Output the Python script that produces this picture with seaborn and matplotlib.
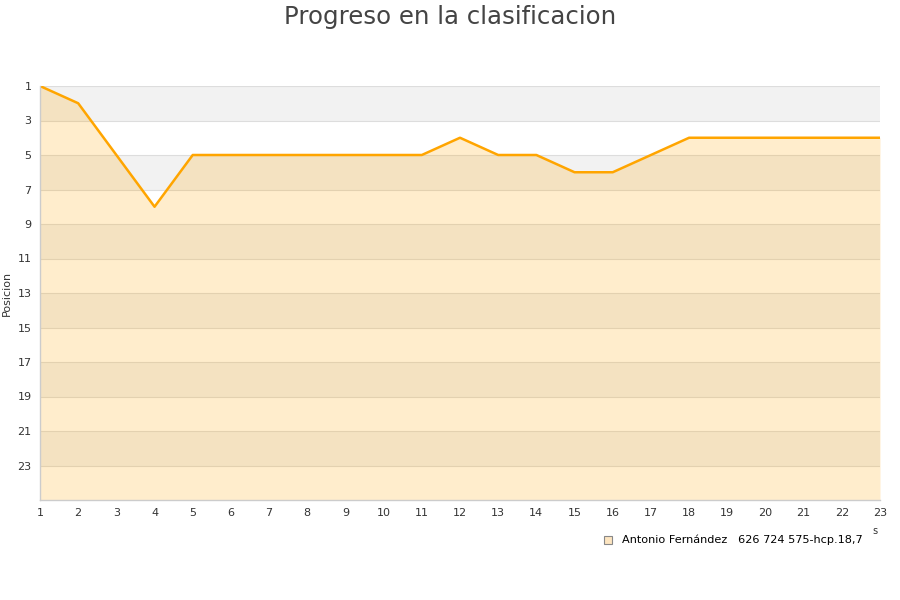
import matplotlib
matplotlib.use("Agg")
import matplotlib.pyplot as plt
import seaborn as sns
import pandas as pd

jornadas = list(range(1, 24))
posicion = [1, 2, 5, 8, 5, 5, 5, 5, 5, 5, 5, 4, 5, 5, 6, 6, 5, 4, 4, 4, 4, 4, 4]
yticks = list(range(1, 24, 2))
serie = "Antonio Fernández   626 724 575-hcp.18,7"
titulo = "Progreso en la clasificacion"
ylabel = "Posicion"

df = pd.DataFrame({"Jornada": jornadas, "Posicion": posicion})

sns.set_style("white")
plt.rcParams['font.family'] = ['DejaVu Sans']

fig = plt.figure(figsize=(9, 6), dpi=100)
ax = fig.add_axes([40/900, 100/600, 840/900, 414/600])

# alternating bands
for i, y0 in enumerate(range(1, 25, 2)):
    if i % 2 == 0:
        ax.axhspan(y0, y0 + 2, color="#f2f2f2", zorder=0, lw=0)
for y in yticks:
    ax.axhline(y, color="#dddddd", lw=0.8, zorder=0.5)

ax.fill_between(df["Jornada"], df["Posicion"], 25, color="#ffa500", alpha=0.2, lw=0, zorder=1)
sns.lineplot(data=df, x="Jornada", y="Posicion", ax=ax, color="#ffa500", lw=1.8, zorder=2)

ax.set_xlim(1, 23)
ax.set_ylim(25, 1)
ax.set_xticks(jornadas)
ax.set_yticks(yticks)
ax.tick_params(axis="both", labelsize=8, colors="#333333", length=0, pad=6)
ax.set_xlabel("")
ax.set_ylabel(ylabel, fontsize=8, color="#333333", labelpad=4)
for s in ["top", "right"]:
    ax.spines[s].set_visible(False)
for s in ["left", "bottom"]:
    ax.spines[s].set_color("#cccccc")
    ax.spines[s].set_linewidth(1)

fig.text(0.5, 1 - 17/600, titulo, ha="center", va="center", fontsize=17.6, color="#444444")

# legend
fig.patches.append(plt.Rectangle((604/900, 1 - 544/600), 8/900, 8/600, transform=fig.transFigure,
                                 facecolor="#fde5c0", edgecolor="#888888", lw=0.8))
fig.text(622/900, 1 - 540/600, serie, ha="left", va="center", fontsize=8.15, color="#000000")
fig.text(875/900, 1 - 531/600, "s", ha="center", va="center", fontsize=7, color="#333333")

fig.savefig("out.png", dpi=100)
